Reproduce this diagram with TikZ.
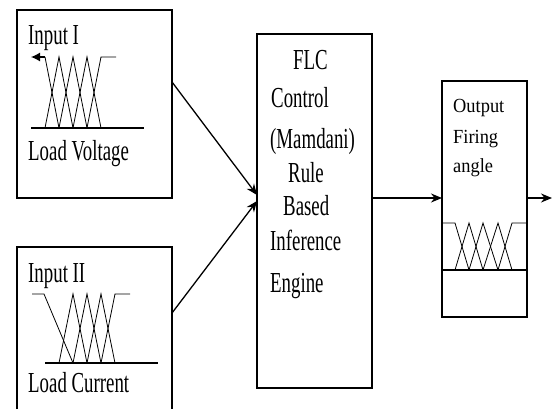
\documentclass[tikz,border=0pt]{standalone}
\usepackage{fontspec}
\setmainfont{Liberation Serif}
\newfontfamily\narrowA[FakeStretch=0.65]{Liberation Serif}
\newfontfamily\narrowB[FakeStretch=0.92]{Liberation Serif}
\usetikzlibrary{arrows.meta,calc}
\begin{document}
\begin{tikzpicture}[x=1pt,y=-1pt,
  box/.style={draw,line width=1.4pt,inner sep=0pt,outer sep=0pt,rectangle},
  lbl/.style={anchor=base west,inner sep=0pt,font=\narrowA\fontsize{29}{29}\selectfont},
  lblo/.style={anchor=base west,inner sep=0pt,font=\narrowB\fontsize{20}{20}\selectfont},
  mf/.style={line width=0.8pt},
  baseln/.style={line width=1.4pt},
  conn/.style={line width=1.3pt,-{Stealth[length=11pt,width=9pt]}}]
\useasboundingbox (0,0) rectangle (553,409);

% boxes
\node[box,minimum width=155pt,minimum height=188pt] (b1) at (94.5,104) {};
\node[draw=none,inner sep=0pt,outer sep=0pt,minimum width=155pt,minimum height=162pt] (b2) at (94.5,328) {};
\draw[line width=1.4pt] (b2.south west) -- (b2.north west) -- (b2.north east) -- (b2.south east);
\node[box,minimum width=115pt,minimum height=354pt] (flc) at (314.5,211) {};
\node[box,minimum width=85pt,minimum height=236pt] (out) at (484.5,199) {};

% labels
\node[lbl] (i1) at (28,45) {Input I};
\node[lbl] (lv) at (28,160) {Load Voltage};
\node[lbl] (i2) at (28,282) {Input II};
\node[lbl] (lc) at (28,392) {Load Current};

\node[lbl] (f1) at (293,70) {FLC};
\node[lbl] (f2) at (271,107) {Control};
\node[lbl] (f3) at (270,148) {(Mamdani)};
\node[lbl] (f4) at (288,182) {Rule};
\node[lbl] (f5) at (283,215) {Based};
\node[lbl] (f6) at (270,250) {Inference};
\node[lbl] (f7) at (270,292) {Engine};

\node[lblo] (o1) at (453,113) {Output};
\node[lblo] (o2) at (453,143) {Firing};
\node[lblo] (o3) at (453,172) {angle};

% membership functions: Input I
\draw[baseln] (31,128) -- (144,128);
\draw[line width=1.2pt,-{Latex[length=9pt,width=9pt]}] (45,57) -- (31,57);
\draw[mf] (45,57) -- (59,128);
\draw[mf] (45,128) -- (59,57) -- (73,128);
\draw[mf] (59,128) -- (73,57) -- (87,128);
\draw[mf] (73,128) -- (87,57) -- (101,128);
\draw[mf] (87,128) -- (101,57) -- (116,57);

% membership functions: Input II
\draw[baseln] (45,363) -- (158,363);
\draw[mf] (32,294) -- (44,294) -- (73,363);
\draw[mf] (59,363) -- (73,294) -- (87,363);
\draw[mf] (73,363) -- (87,294) -- (101,363);
\draw[mf] (87,363) -- (101,294) -- (115,363);
\draw[mf] (101,363) -- (115,294) -- (130,294);

% membership functions: Output
\draw[baseln] (out.west |- 0,270) -- (out.east |- 0,270);
\draw[mf] (out.west |- 0,223) -- (455,223) -- (469,270);
\draw[mf] (455,270) -- (469,223) -- (483,270);
\draw[mf] (469,270) -- (483,223) -- (498,270);
\draw[mf] (483,270) -- (498,223) -- (512,270);
\draw[mf] (498,270) -- (512,223) -- (out.east |- 0,223);

% connectors
\coordinate (a1s) at ($(b1.north east)+(0,72)$);
\coordinate (a1e) at ($(flc.north west)+(0,161)$);
\coordinate (a2s) at ($(b2.north west)+(155,66)$);
\coordinate (a2e) at ($(flc.north west)+(0,167)$);
\coordinate (oe) at (552,198);
\draw[conn] (a1s) -- (a1e);
\draw[conn] (a2s) -- (a2e);
\draw[conn] (flc.east |- 0,198) -- (out.west |- 0,198);
\draw[conn] (out.east |- 0,198) -- (oe);
\end{tikzpicture}
\end{document}
